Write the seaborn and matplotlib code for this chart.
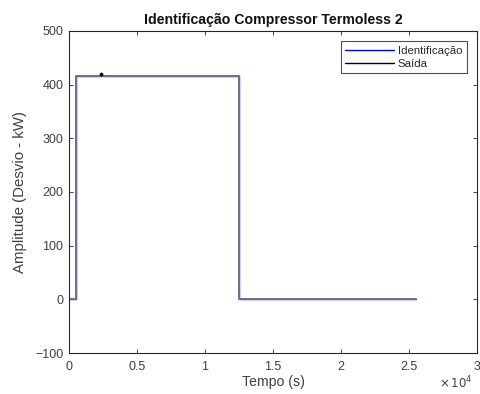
import matplotlib
matplotlib.use("Agg")
import matplotlib.pyplot as plt
from matplotlib.lines import Line2D
import seaborn as sns
import pandas as pd

# Step response breakpoints (time in s, deviation in kW)
tempo = [0, 500, 12500, 25500]
identificacao = [0, 417, 0, 0]
saida = [0, 417, 0, 0]
marcador_t = [2350]
marcador_v = [420]

xticks = [0, 5000, 10000, 15000, 20000, 25000, 30000]
xticklabels = ["0", "0.5", "1", "1.5", "2", "2.5", "3"]
yticks = [-100, 0, 100, 200, 300, 400, 500]
series_labels = ["Identificação", "Saída"]

sns.set_theme(style="white")
plt.rcParams["font.family"] = ["Liberation Sans", "DejaVu Sans"]

fig = plt.figure(figsize=(4.8, 3.94), dpi=100)
ax = fig.add_axes([69 / 480, 1 - 353 / 394, (477 - 69) / 480, (353 - 31) / 394])

df = pd.DataFrame({"t": tempo, "ident": identificacao, "saida": saida})
sns.lineplot(data=df, x="t", y="ident", ax=ax, color="#0000ff", lw=1.0,
             drawstyle="steps-post", sort=False, legend=False)
# the output overlaps the identified model, blending into a grey-blue trace
sns.lineplot(data=df, x="t", y="saida", ax=ax, color="#70708a", lw=1.4,
             drawstyle="steps-post", sort=False, legend=False)
sns.scatterplot(x=marcador_t, y=marcador_v, ax=ax, color="black", s=6,
                edgecolor="black", legend=False, zorder=5)

ax.set_xlim(0, 30000)
ax.set_ylim(-100, 500)
ax.set_xticks(xticks)
ax.set_xticklabels(xticklabels)
ax.set_yticks(yticks)

for s in ax.spines.values():
    s.set_color("#262626")
    s.set_linewidth(0.8)
ax.tick_params(direction="in", length=3, width=0.6, colors="#262626",
               labelsize=9, top=True, right=True, bottom=True, left=True,
               labelcolor="#404040")
ax.tick_params(axis="x", pad=6)
ax.tick_params(axis="y", pad=4)

ax.set_title("Identificação Compressor Termoless 2", fontsize=10.2,
             fontweight="bold", pad=5, color="#111111")
ax.set_xlabel("Tempo (s)", fontsize=10.2, color="#404040", labelpad=1)
ax.set_ylabel("Amplitude (Desvio - kW)", fontsize=10.8, color="#404040", labelpad=6)
ax.text(0.99, -0.068, r"$\times\,10^4$", transform=ax.transAxes, ha="right",
        va="top", fontsize=8.5, color="#404040")

handles = [Line2D([], [], color="#0000ff", lw=1.0),
           Line2D([], [], color="black", lw=1.0)]
leg = ax.legend(handles, series_labels, loc="upper right", fontsize=8.2,
                frameon=True, fancybox=False, edgecolor="#262626",
                handlelength=4.3, borderaxespad=0.9, handletextpad=0.3,
                borderpad=0.4, labelspacing=0.25)
leg.get_frame().set_linewidth(0.8)

fig.savefig("out.png", dpi=100)
